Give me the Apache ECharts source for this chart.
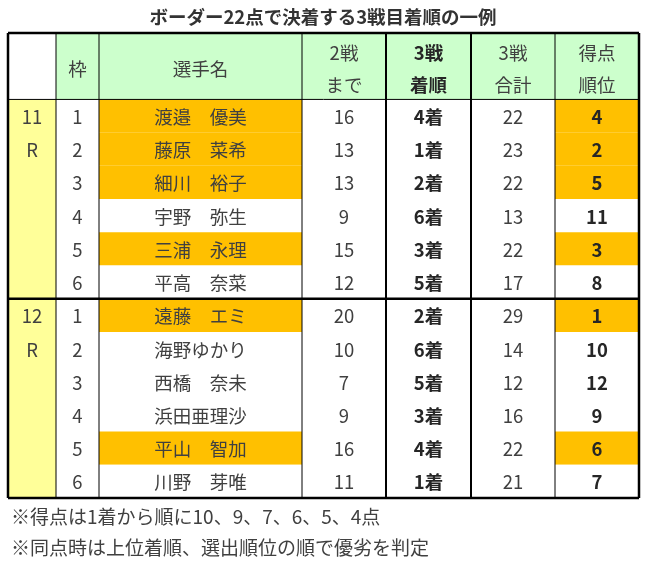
<!DOCTYPE html>
<html>
<head>
<meta charset="utf-8">
<script src="https://cdn.jsdelivr.net/npm/echarts@6/dist/echarts.min.js"></script>
<style>html,body{margin:0;padding:0;background:#fff;}#main{width:646px;height:565px;}</style>
</head>
<body>
<div id="main"></div>
<script>
// ---- data ----
const titleText = 'ボーダー22点で決着する3戦目着順の一例';
const columnHeaders = ['', '枠', '選手名', '2戦\nまで', '3戦\n着順', '3戦\n合計', '得点\n順位'];
const races = ['11\nR', '12\nR'];
const waku = [1, 2, 3, 4, 5, 6];
const names11 = ['渡邉　優美', '藤原　菜希', '細川　裕子', '宇野　弥生', '三浦　永理', '平高　奈菜'];
const names12 = ['遠藤　エミ', '海野ゆかり', '西橋　奈未', '浜田亜理沙', '平山　智加', '川野　芽唯'];
const points2_11 = [16, 13, 13, 9, 15, 12];
const points2_12 = [20, 10, 7, 9, 16, 11];
const finish3_11 = [4, 1, 2, 6, 3, 5];
const finish3_12 = [2, 6, 5, 3, 4, 1];
const total3_11 = [22, 23, 22, 13, 22, 17];
const total3_12 = [29, 14, 12, 16, 22, 21];
const rank_11 = [4, 2, 5, 11, 3, 8];
const rank_12 = [1, 10, 12, 9, 6, 7];
const notes = ['※得点は1着から順に10、9、7、6、5、4点', '※同点時は上位着順、選出順位の順で優劣を判定'];
const qualifyCount = 6;

// ---- layout / style ----
const colEdges = [0, 48, 91, 294, 378, 463, 547, 631];
const FONT = '"Noto Sans CJK JP", "Noto Sans", sans-serif';
const FS = 18.5;
const C_HEAD = '#ccffcc', C_RACE = '#ffff99', C_HI = '#ffc000', C_WHITE = '#ffffff';
const T_NORMAL = '#404040', T_BOLD = '#262626';

const cells = [];
columnHeaders.forEach((h, c) => {
  cells.push({ value: [c, 0, 2], text: h, fill: c === 0 ? C_WHITE : C_HEAD, bold: c === 4, header: true });
});
const blocks = [
  { race: races[0], names: names11, p2: points2_11, f3: finish3_11, t3: total3_11, rk: rank_11 },
  { race: races[1], names: names12, p2: points2_12, f3: finish3_12, t3: total3_12, rk: rank_12 }
];
blocks.forEach((b, bi) => {
  const r0 = 2 + bi * 6;
  cells.push({ value: [0, r0, 6], text: b.race, fill: C_RACE, race: true });
  waku.forEach((w, i) => {
    const r = r0 + i;
    const hi = b.rk[i] <= qualifyCount;
    cells.push({ value: [1, r, 1], text: String(w), fill: C_WHITE });
    cells.push({ value: [2, r, 1], text: b.names[i], fill: hi ? C_HI : C_WHITE });
    cells.push({ value: [3, r, 1], text: String(b.p2[i]), fill: C_WHITE });
    cells.push({ value: [4, r, 1], text: b.f3[i] + '着', fill: C_WHITE, bold: true });
    cells.push({ value: [5, r, 1], text: String(b.t3[i]), fill: C_WHITE });
    cells.push({ value: [6, r, 1], text: String(b.rk[i]), fill: hi ? C_HI : C_WHITE, bold: true });
  });
});

const lines = [];
for (let c = 1; c < colEdges.length - 1; c++) {
  lines.push({ value: [colEdges[c], 0, colEdges[c], 14, (c === 4 || c === 5) ? 2 : 1] });
}
lines.push({ value: [0, 2, 631, 2, 1] });
lines.push({ value: [0, 8, 631, 8, 2.5] });
lines.push({ value: [0, 0, 631, 0, 2.5] });
lines.push({ value: [0, 14, 631, 14, 2.5] });
lines.push({ value: [0, 0, 0, 14, 2.5] });
lines.push({ value: [631, 0, 631, 14, 2.5] });

const chart = echarts.init(document.getElementById('main'), null, { renderer: 'canvas' });
chart.setOption({
  animation: false,
  backgroundColor: '#ffffff',
  title: [
    { text: titleText, left: 'center', top: 3, textStyle: { fontFamily: FONT, fontSize: 18.5, fontWeight: 'bold', color: '#333333' } },
    { text: notes[0], left: 6, top: 502, textStyle: { fontFamily: FONT, fontSize: 19, fontWeight: 'normal', color: T_NORMAL } },
    { text: notes[1], left: 6, top: 533, textStyle: { fontFamily: FONT, fontSize: 19, fontWeight: 'normal', color: T_NORMAL } }
  ],
  grid: { left: 8, top: 33, width: 631, height: 465, containLabel: false },
  xAxis: { type: 'value', min: 0, max: 631, show: false },
  yAxis: { type: 'value', min: 0, max: 14, inverse: true, show: false },
  series: [
    {
      type: 'custom',
      clip: false,
      data: cells,
      z: 1,
      renderItem: function (params, api) {
        const cell = cells[params.dataIndex];
        const c = api.value(0), r = api.value(1), s = api.value(2);
        const p0 = api.coord([colEdges[c], r]);
        const p1 = api.coord([colEdges[c + 1], r + s]);
        const rowH = (p1[1] - p0[1]) / s;
        const cx = (p0[0] + p1[0]) / 2;
        let ty, va = 'middle', lh;
        if (cell.race) {
          ty = p0[1] + 1; va = 'top'; lh = rowH;
        } else if (cell.header) {
          ty = (p0[1] + p1[1]) / 2 + 3; lh = 32;
        } else {
          ty = (p0[1] + p1[1]) / 2 + 1; lh = rowH;
        }
        return {
          type: 'group',
          children: [
            { type: 'rect', shape: { x: p0[0], y: p0[1], width: p1[0] - p0[0], height: p1[1] - p0[1] }, style: { fill: cell.fill } },
            { type: 'text', style: {
                text: cell.text, x: cx, y: ty, align: 'center', verticalAlign: va, lineHeight: lh,
                fontFamily: FONT, fontSize: FS, fontWeight: cell.bold ? 'bold' : 'normal',
                fill: cell.bold ? T_BOLD : T_NORMAL
              } }
          ]
        };
      }
    },
    {
      type: 'custom',
      clip: false,
      data: lines,
      z: 2,
      renderItem: function (params, api) {
        const a = api.coord([api.value(0), api.value(1)]);
        const b = api.coord([api.value(2), api.value(3)]);
        return { type: 'line', shape: { x1: a[0], y1: a[1], x2: b[0], y2: b[1] }, style: { stroke: '#000000', lineWidth: api.value(4) } };
      }
    }
  ]
});
</script>
</body>
</html>
